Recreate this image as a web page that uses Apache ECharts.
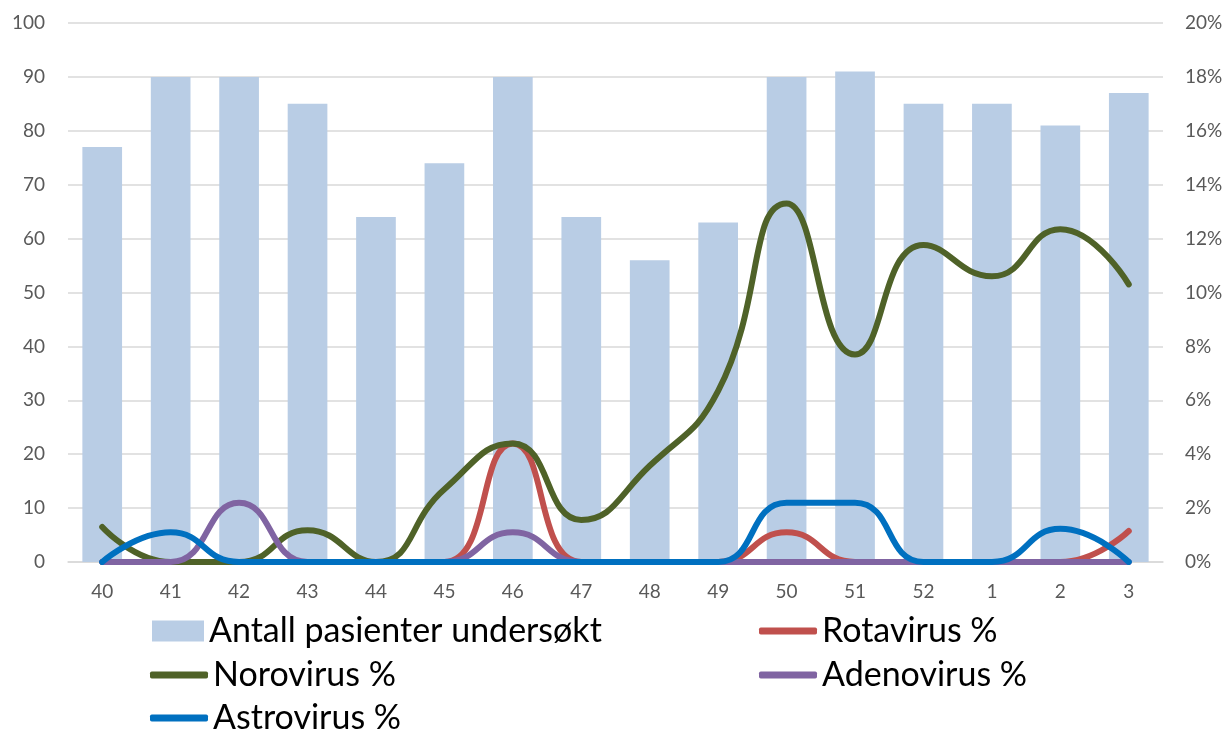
<!DOCTYPE html>
<html>
<head>
<meta charset="utf-8">
<script src="https://cdn.jsdelivr.net/npm/echarts@6/dist/echarts.min.js"></script>
<style>
  html, body { margin: 0; padding: 0; background: #fff; }
  #chart { width: 1227px; height: 731px; }
</style>
</head>
<body>
<div id="chart"></div>
<script>
// uker (kategorier)
const weeks = ['40', '41', '42', '43', '44', '45', '46', '47', '48', '49', '50', '51', '52', '1', '2', '3'];

// antall pasienter undersøkt (venstre akse)
const patients = [77, 90, 90, 85, 64, 74, 90, 64, 56, 63, 90, 91, 85, 85, 81, 87];

// andel positive i prosent (høyre akse)
const rotavirus = [0, 0, 0, 0, 0, 0, 4.4, 0, 0, 0, 1.1, 0, 0, 0, 0, 1.15];
const norovirus = [1.3, 0, 0, 1.18, 0, 2.7, 4.4, 1.56, 3.57, 6.35, 13.3, 7.7, 11.76, 10.6, 12.35, 10.3];
const adenovirus = [0, 0, 2.2, 0, 0, 0, 1.1, 0, 0, 0, 0, 0, 0, 0, 0, 0];
const astrovirus = [0, 1.1, 0, 0, 0, 0, 0, 0, 0, 0, 2.2, 2.2, 0, 0, 1.23, 0];

const fontFamily = 'Lato, "Noto Sans", sans-serif';

var myChart = echarts.init(document.getElementById('chart'));

function lineSeries(name, color, values) {
  return {
    name: name,
    type: 'line',
    yAxisIndex: 1,
    data: values,
    smooth: 0.5,
    showSymbol: false,
    symbol: 'none',
    lineStyle: { color: color, width: 6, cap: 'round', join: 'round' },
    itemStyle: { color: color }
  };
}

// en legende per element, plassert som i originalen
function legendItem(name, left, centerY, isBar) {
  return {
    left: left,
    top: centerY - 20,
    padding: 0,
    itemWidth: isBar ? 52 : 58,
    itemHeight: isBar ? 21 : 7,
    icon: isBar ? 'rect' : 'roundRect',
    itemStyle: { borderWidth: 0 },
    textStyle: { fontSize: 34, lineHeight: 40, color: '#000', fontFamily: fontFamily },
    data: [name]
  };
}

var option = {
  animation: false,
  textStyle: { fontFamily: fontFamily },
  grid: { left: 68, right: 64, top: 23, bottom: 169 },
  legend: [
    legendItem('Antall pasienter undersøkt', 152, 631, true),
    legendItem('Rotavirus %', 759, 631, false),
    legendItem('Norovirus %', 150, 675, false),
    legendItem('Adenovirus %', 759, 675, false),
    legendItem('Astrovirus %', 150, 718, false)
  ],
  xAxis: {
    type: 'category',
    data: weeks,
    axisLine: { show: true, lineStyle: { color: '#D9D9D9', width: 1.5 } },
    axisTick: { show: false },
    axisLabel: { color: '#595959', fontSize: 19, margin: 20, fontFamily: fontFamily }
  },
  yAxis: [
    {
      type: 'value',
      min: 0,
      max: 100,
      interval: 10,
      axisLine: { show: false },
      axisTick: { show: false },
      splitLine: { lineStyle: { color: '#D9D9D9', width: 1.5 } },
      axisLabel: { color: '#595959', fontSize: 19, margin: 23, fontFamily: fontFamily }
    },
    {
      type: 'value',
      min: 0,
      max: 20,
      interval: 2,
      axisLine: { show: false },
      axisTick: { show: false },
      splitLine: { show: false },
      axisLabel: { color: '#595959', fontSize: 19, margin: 22, formatter: '{value}%', fontFamily: fontFamily }
    }
  ],
  series: [
    {
      name: 'Antall pasienter undersøkt',
      type: 'bar',
      data: patients,
      barCategoryGap: '42%',
      itemStyle: { color: '#B9CDE5' }
    },
    lineSeries('Rotavirus %', '#C0504D', rotavirus),
    lineSeries('Norovirus %', '#4F6228', norovirus),
    lineSeries('Adenovirus %', '#8064A2', adenovirus),
    lineSeries('Astrovirus %', '#0070C0', astrovirus)
  ]
};

myChart.setOption(option);
</script>
</body>
</html>
